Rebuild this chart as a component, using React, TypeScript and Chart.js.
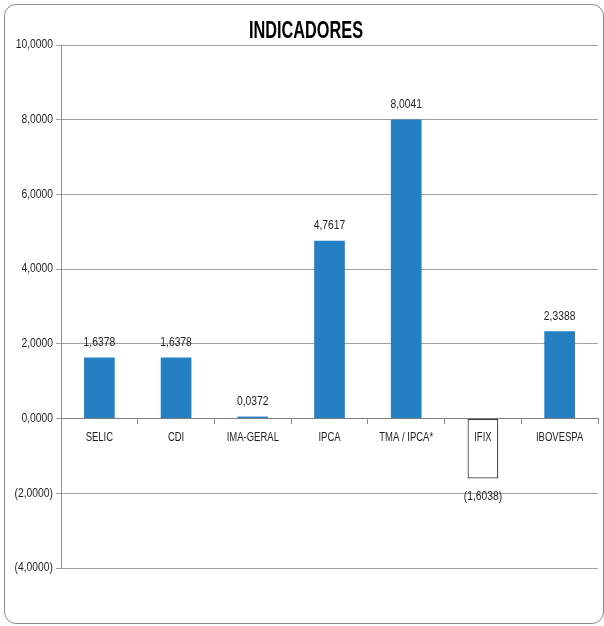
import React, { useEffect, useRef } from "react";
import { Chart, registerables } from "chart.js";

Chart.register(...registerables);

const categories = ["SELIC", "CDI", "IMA-GERAL", "IPCA", "TMA / IPCA*", "IFIX", "IBOVESPA"];
const values = [1.6378, 1.6378, 0.0372, 4.7617, 8.0041, -1.6038, 2.3388];
const yMin = -4;
const yMax = 10;
const yStep = 2;
const title = "INDICADORES";

const FONT = '"Liberation Sans", Arial, sans-serif';
const BLUE = "#2580C3";
const TEXT = "#1e1e1e";

function fmt(v: number): string {
  const s = Math.abs(v).toFixed(4).replace(".", ",");
  return v < 0 ? `(${s})` : s;
}

function drawText(ctx: any, t: string, x: number, y: number, font: string, sx: number, align: string) {
  ctx.save();
  ctx.font = font;
  ctx.textBaseline = "middle";
  ctx.textAlign = align;
  ctx.translate(x, y);
  ctx.scale(sx, 1);
  ctx.fillText(t, 0, 0);
  ctx.restore();
}

const textPlugin = {
  id: "textDraw",
  afterDraw(chart: any) {
    const ctx = chart.ctx;
    ctx.save();
    ctx.fillStyle = TEXT;
    // bar value labels
    const meta = chart.getDatasetMeta(0);
    meta.data.forEach((el: any, i: number) => {
      const v = values[i];
      const y = v >= 0 ? el.y - 15 : el.y + 18;
      drawText(ctx, fmt(v), el.x, y, `12px ${FONT}`, 0.86, "center");
    });
    // y tick labels
    const ys = chart.scales.y;
    ys.ticks.forEach((t: any, i: number) => {
      const py = ys.getPixelForTick(i);
      drawText(ctx, fmt(t.value), ys.right - 8, py, `12px ${FONT}`, 0.86, "right");
    });
    // x tick labels
    const xs = chart.scales.x;
    const zeroY = ys.getPixelForValue(0);
    categories.forEach((c, i) => {
      const px = xs.getPixelForTick(i);
      drawText(ctx, c, px, zeroY + 19, `12.5px ${FONT}`, 0.76, "center");
    });
    // title
    ctx.fillStyle = "#000";
    ctx.font = `bold 23px ${FONT}`;
    const w = ctx.measureText(title).width;
    drawText(ctx, title, 306, 32, `bold 23px ${FONT}`, 114 / w, "center");
    ctx.restore();
  },
};

export default function App() {
  const ref = useRef<HTMLCanvasElement | null>(null);
  useEffect(() => {
    if (!ref.current) return;
    const chart = new Chart(ref.current, {
      type: "bar",
      data: {
        labels: categories,
        datasets: [
          {
            data: values,
            backgroundColor: values.map((v) => (v < 0 ? "#ffffff" : BLUE)),
            borderColor: values.map((v) => (v < 0 ? "#3a3a3a" : BLUE)),
            borderWidth: values.map((v) => (v < 0 ? 1.2 : 0)),
            borderSkipped: false,
            categoryPercentage: 1,
            barPercentage: 0.4,
            minBarLength: 2,
          },
        ],
      },
      plugins: [textPlugin],
      options: {
        animation: false,
        responsive: false,
        maintainAspectRatio: false,
        layout: { padding: { top: 45, left: 0, right: 6, bottom: 58 } },
        plugins: {
          legend: { display: false },
          tooltip: { enabled: false },
          title: { display: false },
        },
        scales: {
          x: {
            position: { y: 0 } as any,
            offset: true,
            grid: {
              drawOnChartArea: false,
              drawTicks: true,
              tickLength: 5,
              offset: true,
              color: "#8c8c8c",
            },
            border: { color: "#7f7f7f", width: 1, z: 1 },
            ticks: {
              font: { family: FONT, size: 10 },
              color: "rgba(0,0,0,0)",
              padding: 6,
              maxRotation: 0,
              autoSkip: false,
            },
          },
          y: {
            min: yMin,
            max: yMax,
            afterFit: (s: any) => {
              s.width = 61;
            },
            grid: { color: "#a0a0a0", tickLength: 5, drawTicks: true },
            border: { color: "#8c8c8c", width: 1 },
            ticks: {
              stepSize: yStep,
              font: { family: FONT, size: 10 },
              color: "rgba(0,0,0,0)",
              padding: 3,
              callback: (v: any) => fmt(Number(v)),
            },
          },
        },
      },
    });
    return () => chart.destroy();
  }, []);

  return (
    <div style={{ position: "absolute", left: 0, top: 0, width: 604, height: 626, background: "#fff" }}>
      <div
        style={{
          position: "absolute",
          left: 4,
          top: 4,
          width: 600,
          height: 620,
          boxSizing: "border-box",
          border: "1px solid #8a8a8a",
          borderRadius: 12,
        }}
      />
      <canvas ref={ref} width={604} height={626} style={{ position: "absolute", left: 0, top: 0 }} />
    </div>
  );
}
